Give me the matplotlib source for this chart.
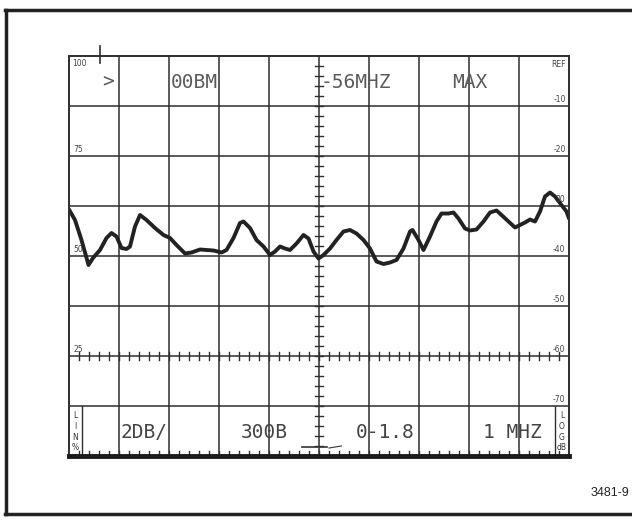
import numpy as np
import matplotlib
matplotlib.use("Agg")
import matplotlib.pyplot as plt
from matplotlib.lines import Line2D

# trace: x in divisions (0-10), level in dB below REF
trace_x = [0.0, 0.12, 0.25, 0.39, 0.48, 0.62, 0.75, 0.85, 0.95, 1.05, 1.15, 1.22, 1.32, 1.42,
           1.55, 1.72, 1.89, 2.02, 2.15, 2.32, 2.45, 2.62, 2.75, 2.89, 3.05, 3.15, 3.29, 3.42,
           3.49, 3.62, 3.75, 3.89, 4.02, 4.12, 4.22, 4.32, 4.42, 4.55, 4.69, 4.79, 4.89, 4.99,
           5.09, 5.22, 5.35, 5.49, 5.62, 5.75, 5.89, 6.02, 6.15, 6.29, 6.42, 6.55, 6.69, 6.82,
           6.87, 6.99, 7.09, 7.22, 7.35, 7.45, 7.59, 7.69, 7.79, 7.92, 8.02, 8.15, 8.29, 8.42,
           8.55, 8.65, 8.79, 8.92, 9.02, 9.12, 9.22, 9.32, 9.42, 9.52, 9.62, 9.72, 9.85, 9.95, 10.0]
trace_db = [-30.7, -32.8, -36.8, -41.8, -40.4, -38.8, -36.4, -35.4, -36.1, -38.4, -38.6, -38.1, -34.1, -31.8,
            -32.8, -34.4, -35.8, -36.4, -37.8, -39.5, -39.3, -38.7, -38.8, -38.9, -39.3, -38.8, -36.4, -33.4,
            -33.1, -34.4, -36.8, -38.1, -39.8, -39.1, -38.1, -38.5, -38.8, -37.5, -35.8, -36.5, -39.1, -40.5,
            -39.8, -38.5, -36.8, -35.1, -34.8, -35.5, -36.8, -38.5, -41.1, -41.6, -41.3, -40.8, -38.5, -35.1,
            -34.8, -36.8, -38.8, -36.1, -33.1, -31.5, -31.5, -31.3, -32.5, -34.5, -34.9, -34.7, -33.1, -31.3,
            -30.9, -31.8, -33.1, -34.3, -33.8, -33.3, -32.7, -33.1, -31.1, -28.1, -27.3, -28.1, -29.8, -31.1, -32.5]

ref_labels = ["REF", "-10", "-20", "30", "-40", "-50", "-60", "-70"]
ref_levels = [0, -10, -20, -30, -40, -50, -60, -70]
lin_labels = ["100", "75", "50", "25"]
lin_levels = [0, -20, -40, -60]
top_readout = [">", "00BM", "-56MHZ", "MAX"]
top_pos = [0.78, 2.5, 5.74, 8.02]
bottom_readout = ["2DB/", "300B", "0-1.8", "1 MHZ"]
bottom_pos = [1.5, 3.9, 6.32, 8.86]

grid_col = "#2e2e2e"
text_col = "#5a5a5a"

fig = plt.figure(figsize=(6.32, 5.21), dpi=100)
fig.patch.set_facecolor("white")
ax = fig.add_axes([69 / 632, 65 / 521, 500 / 632, 400 / 521])
ax.set_xlim(0, 10)
ax.set_ylim(-80, 0)
ax.set_xticks([])
ax.set_yticks([])
for s in ax.spines.values():
    s.set_color(grid_col)
    s.set_linewidth(1.4)
ax.spines["bottom"].set_linewidth(3.5)
ax.spines["bottom"].set_color("#1a1a1a")

# graticule
for gx in range(1, 10):
    ax.axvline(gx, color=grid_col, lw=1.1)
for gy in range(-70, 0, 10):
    ax.axhline(gy, color=grid_col, lw=1.1)

# minor ticks on the centre line and the -60 row
for ty in np.arange(-78, 0, 2):
    ax.plot([4.92, 5.08], [ty, ty], color=grid_col, lw=1.0)
for tx in np.arange(0.2, 10, 0.2):
    ax.plot([tx, tx], [-60.8, -59.2], color=grid_col, lw=1.0)
    ax.plot([tx, tx], [-80, -79.0], color=grid_col, lw=1.0)

# marker above the top edge
ax.plot([0.62, 0.62], [-1.4, 2.0], color=grid_col, lw=1.2, clip_on=False)

# trace
ax.plot(trace_x, trace_db, color="#222222", lw=2.8, solid_joinstyle="round", solid_capstyle="round")

# scale labels
for lab, lev in zip(ref_labels, ref_levels):
    if lev == 0:
        ax.text(9.93, -0.8, lab, ha="right", va="top", fontsize=5.5, color="#444444")
    else:
        ax.text(9.93, lev + 0.5, lab, ha="right", va="bottom", fontsize=5.5, color="#444444")
for lab, lev in zip(lin_labels, lin_levels):
    if lev == 0:
        ax.text(0.06, -0.6, lab, ha="left", va="top", fontsize=5.5, color="#444444")
    else:
        ax.text(0.08, lev + 0.5, lab, ha="left", va="bottom", fontsize=5.5, color="#444444")

# readouts
for lab, px in zip(top_readout, top_pos):
    ax.text(px, -5.2, lab, ha="center", va="center", fontsize=14,
            family="DejaVu Sans Mono", color=text_col)
for lab, px in zip(bottom_readout, bottom_pos):
    ax.text(px, -75.2, lab, ha="center", va="center", fontsize=14,
            family="DejaVu Sans Mono", color="#444444")

# LIN % and LOG dB side boxes
ax.plot([0.26, 0.26], [-80, -70], color=grid_col, lw=1.0)
ax.plot([9.72, 9.72], [-80, -70], color=grid_col, lw=1.0)
for i, ch in enumerate(["L", "I", "N", "%"]):
    ax.text(0.13, -72.0 - 2.1 * i, ch, ha="center", va="center", fontsize=5.5, color="#333333")
for i, ch in enumerate(["L", "O", "G", "dB"]):
    ax.text(9.86, -72.0 - 2.1 * i, ch, ha="center", va="center", fontsize=5.5, color="#333333")

# small arrow near the bottom centre
ax.plot([4.65, 5.15], [-78.2, -78.2], color="#333333", lw=1.2)
ax.plot([5.2, 5.45], [-78.4, -78.0], color="#333333", lw=0.8)

# figure number and frame
fig.text(0.995, 0.054, "3481-9", ha="right", va="center", fontsize=9, color="#222222",
         family="Liberation Sans")
fig.add_artist(Line2D([5 / 632, 1.0], [511 / 521, 511 / 521], color="#222222", lw=2.5))
fig.add_artist(Line2D([6 / 632, 6 / 632], [7 / 521, 511 / 521], color="#222222", lw=2.5))
fig.add_artist(Line2D([5 / 632, 1.0], [7 / 521, 7 / 521], color="#222222", lw=2.5))

fig.savefig("out.png", dpi=100)
